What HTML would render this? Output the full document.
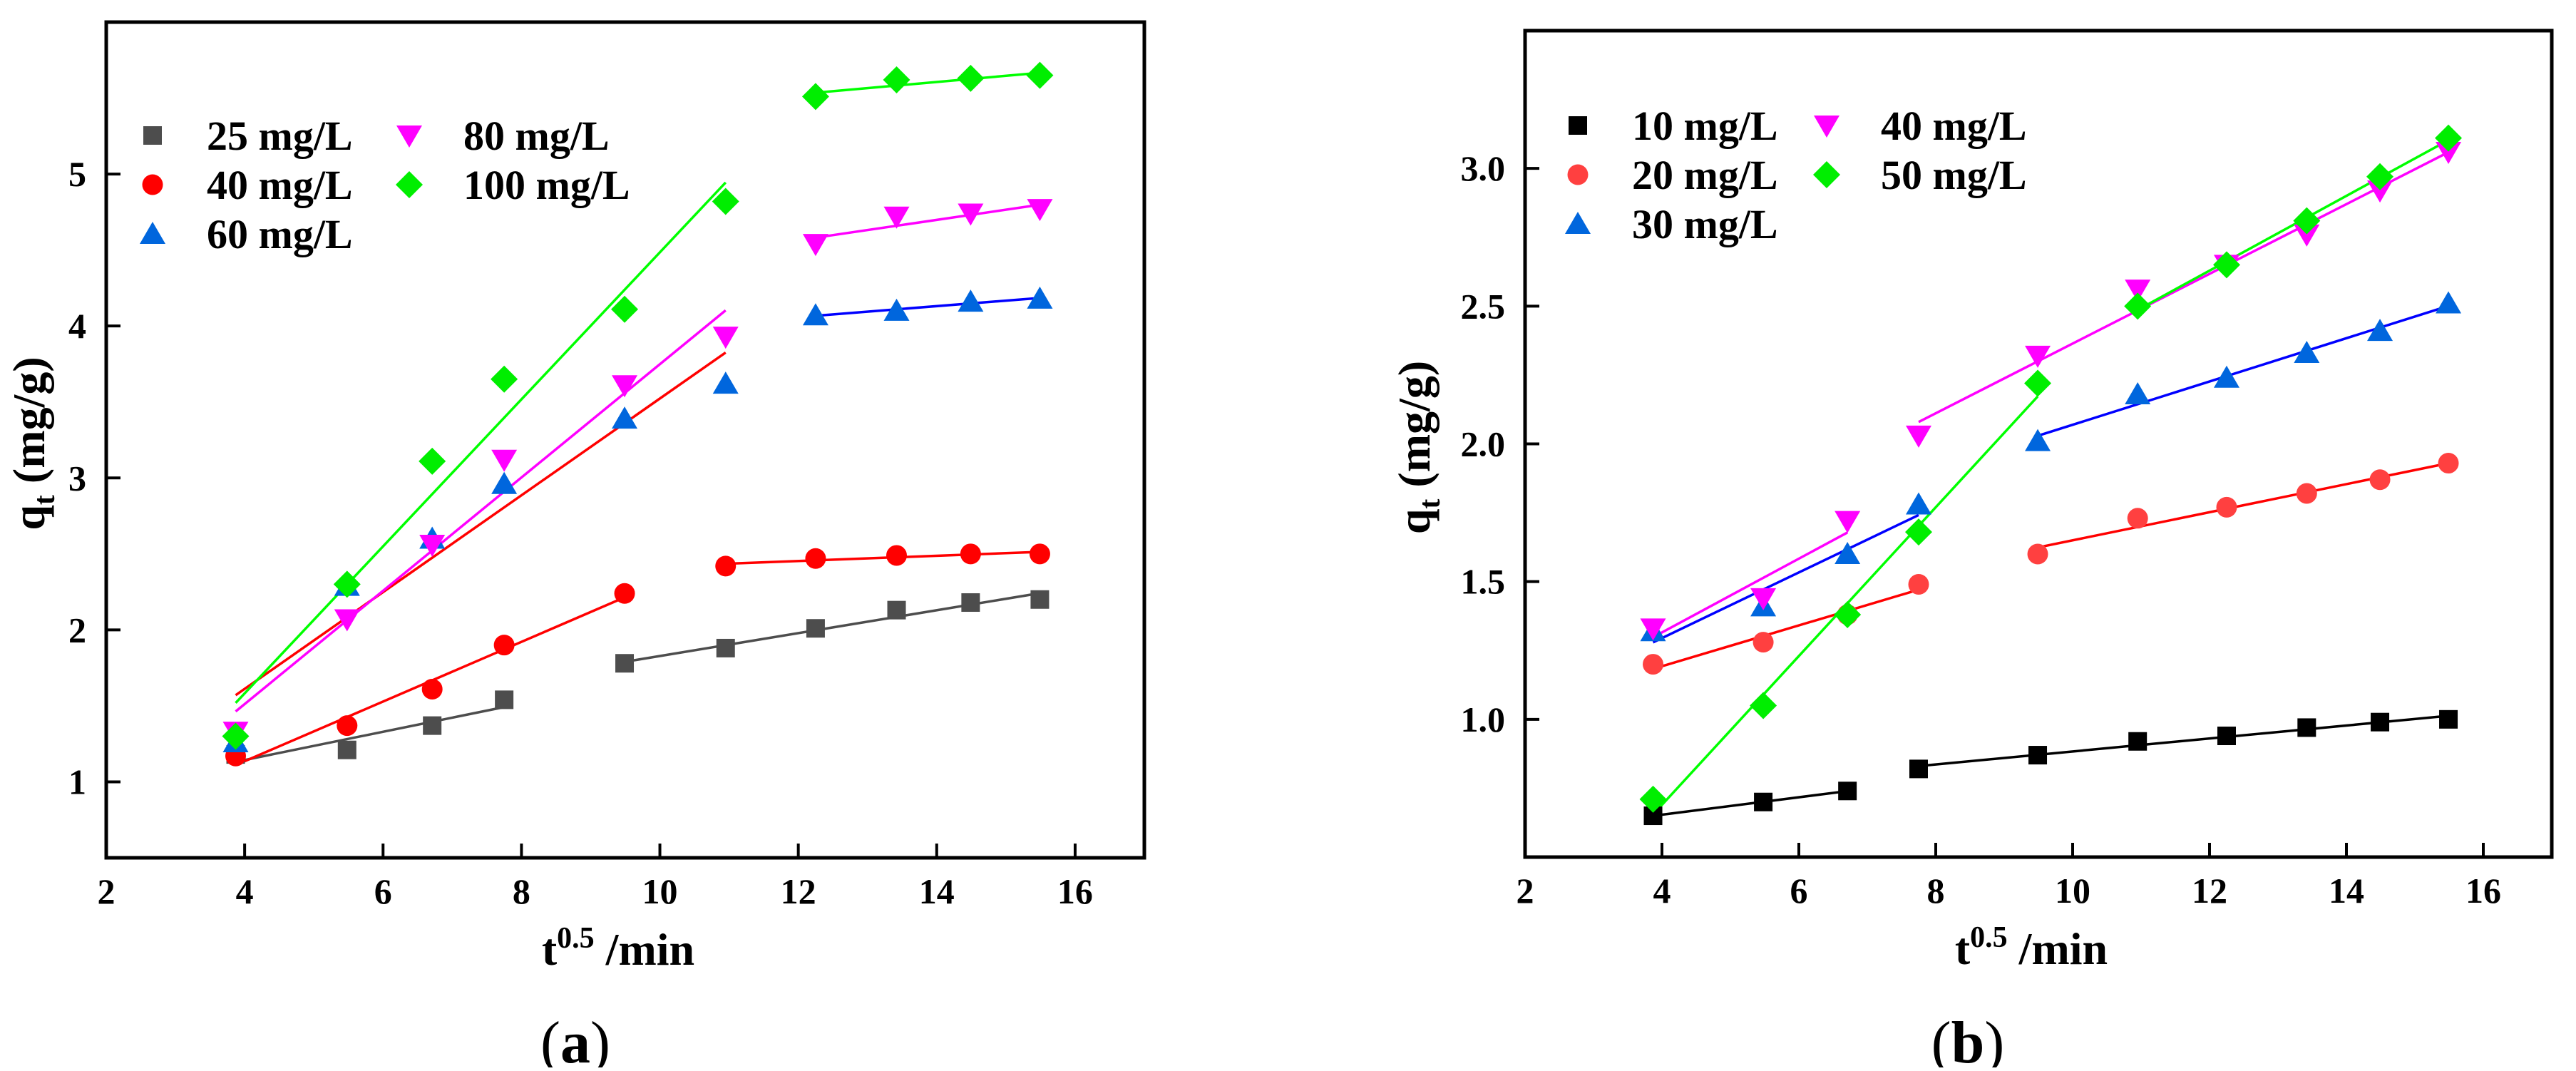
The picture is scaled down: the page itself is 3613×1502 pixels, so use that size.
<!DOCTYPE html>
<html><head><meta charset="utf-8"><style>
html,body{margin:0;padding:0;background:#fff;}
svg, svg text, svg tspan{font-family:"Liberation Serif","DejaVu Serif","Noto Serif CJK SC",serif;}
</style></head><body>
<svg id="fig" width="3613" height="1497" viewBox="0 0 3613 1497" xmlns="http://www.w3.org/2000/svg"></svg>
<script>
// ---- data (a) ----
const xVals = [3.87, 5.48, 6.71, 7.75, 9.49, 10.95, 12.25, 13.42, 14.49, 15.49];
const aNames = ["25 mg/L", "40 mg/L", "60 mg/L", "80 mg/L", "100 mg/L"];
const a25 = [1.18, 1.21, 1.37, 1.54, 1.78, 1.88, 2.01, 2.13, 2.18, 2.20];
const a40 = [1.17, 1.37, 1.61, 1.90, 2.24, 2.42, 2.47, 2.49, 2.50, 2.50];
const a60 = [1.26, 2.29, 2.60, 2.96, 3.39, 3.62, 4.07, 4.10, 4.16, 4.18];
const a80 = [1.33, 2.07, 2.56, 3.12, 3.61, 3.93, 4.54, 4.72, 4.74, 4.77];
const a100 = [1.30, 2.30, 3.11, 3.65, 4.11, 4.82, 5.51, 5.62, 5.63, 5.65];
const aSeg25 = [[0,3],[4,9]];
const aSeg40 = [[0,4],[5,9]];
const aSeg60 = [[0,5],[6,9]];
const aSeg80 = [[0,5],[6,9]];
const aSeg100 = [[0,5],[6,9]];
const aYTicks = [1, 2, 3, 4, 5];
const xTicks = [2, 4, 6, 8, 10, 12, 14, 16];
// ---- data (b) ----
const bNames = ["10 mg/L", "20 mg/L", "30 mg/L", "40 mg/L", "50 mg/L"];
const b10 = [0.65, 0.70, 0.74, 0.82, 0.87, 0.92, 0.94, 0.97, 0.99, 1.00];
const b20 = [1.20, 1.28, 1.38, 1.49, 1.60, 1.73, 1.77, 1.82, 1.87, 1.93];
const b30 = [1.32, 1.41, 1.60, 1.78, 2.01, 2.18, 2.24, 2.33, 2.41, 2.51];
const b40 = [1.33, 1.44, 1.72, 2.03, 2.32, 2.56, 2.65, 2.76, 2.92, 3.06];
const b50 = [0.71, 1.05, 1.38, 1.68, 2.22, 2.50, 2.65, 2.81, 2.97, 3.11];
const bSeg10 = [[0,2],[3,9]];
const bSeg20 = [[0,3],[4,9]];
const bSeg30 = [[0,3],[4,9]];
const bSeg40 = [[0,2],[3,9]];
const bSeg50 = [[0,4],[5,9]];
const bYTicks = [1.0, 1.5, 2.0, 2.5, 3.0];

const NS = "http://www.w3.org/2000/svg";
const FONT = "'Liberation Serif', 'DejaVu Serif', 'Noto Serif CJK SC', serif";
const svg = document.getElementById("fig");
function mk(tag, attrs, parent) {
  const e = document.createElementNS(NS, tag);
  for (const k in attrs) e.setAttribute(k, attrs[k]);
  if (tag === "text") e.style.fontFamily = FONT;
  (parent || svg).appendChild(e);
  return e;
}
function fit(xs, ys) {
  const n = xs.length; let sx=0, sy=0, sxx=0, sxy=0;
  for (let i=0;i<n;i++){sx+=xs[i];sy+=ys[i];sxx+=xs[i]*xs[i];sxy+=xs[i]*ys[i];}
  const m = (n*sxy - sx*sy)/(n*sxx - sx*sx); return [m, (sy - m*sx)/n];
}
function marker(g, type, cx, cy, color) {
  let e;
  if (type === "square") e = mk("rect", {x:cx-13, y:cy-13, width:26, height:26, fill:color}, g);
  else if (type === "circle") e = mk("circle", {cx:cx, cy:cy, r:14.5, fill:color}, g);
  else if (type === "up") e = mk("polygon", {points:`${cx},${cy-17} ${cx-18},${cy+14} ${cx+18},${cy+14}`, fill:color}, g);
  else if (type === "down") e = mk("polygon", {points:`${cx},${cy+17} ${cx-18},${cy-14} ${cx+18},${cy-14}`, fill:color}, g);
  else e = mk("polygon", {points:`${cx},${cy-19} ${cx+19},${cy} ${cx},${cy+19} ${cx-19},${cy}`, fill:color}, g);
  return e;
}

function panel(cfg) {
  const g = mk("g", {});
  
  
  const L=cfg.L, R=cfg.R, T=cfg.T, B=cfg.B;
  const sx = v => L + (v - 2) * (R - L) / 15;
  const sy = v => B - (v - cfg.ymin) * (B - T) / (cfg.ymax - cfg.ymin);
  const fr = mk("rect", {x:L, y:T, width:R-L, height:B-T, fill:"none", stroke:"#000", "stroke-width":5}, g);
  
  
  xTicks.forEach(t => {
    const x = sx(t);
    if (t > 2) { const tk = mk("line", {x1:x, y1:B, x2:x, y2:B-20, stroke:"#000", "stroke-width":4}, g);
        }
    const tl = mk("text", {x:x, y:B+64, "font-size":50, "font-weight":"bold", "text-anchor":"middle"}, g);
    tl.textContent = t;
    
    
  });
  cfg.yTicks.forEach(t => {
    const y = sy(t);
    const tk = mk("line", {x1:L, y1:y, x2:L+20, y2:y, stroke:"#000", "stroke-width":4}, g);
    
    
    const tl = mk("text", {x:L-28, y:y+17, "font-size":50, "font-weight":"bold", "text-anchor":"end"}, g);
    tl.textContent = cfg.yFmt(t);
    
    
  });
  const xt = mk("text", {x:(L+R)/2 - 10, y:B+150, "font-size":64, "font-weight":"bold", "text-anchor":"middle"}, g);
  xt.innerHTML = 't<tspan dy="-24" font-size="42">0.5</tspan><tspan dy="24"> /min</tspan>';
  
  
  const yt = mk("text", {x:0, y:0, "font-size":64, "font-weight":"bold", "text-anchor":"middle", transform:`translate(${cfg.ytx},${(T+B)/2+5}) rotate(-90)`}, g);
  yt.innerHTML = 'q<tspan dy="14" font-size="42">t</tspan><tspan dy="-14"> (mg/g)</tspan>';
  
  
  cfg.series.forEach((s) => {
    const sg = mk("g", {}, g);
    
    
    s.segs.forEach((sgm, k) => {
      const xs = xVals.slice(sgm[0], sgm[1]+1), ys = s.ys.slice(sgm[0], sgm[1]+1);
      const [m, b] = fit(xs, ys);
      const x1 = xs[0], x2 = xs[xs.length-1];
      const ln = mk("line", {x1:sx(x1), y1:sy(m*x1+b), x2:sx(x2), y2:sy(m*x2+b), stroke:s.lineColors[k], "stroke-width":3.5}, sg);
      
      
    });
  });
  cfg.series.forEach(s => {
    s.ys.forEach((v, i) => {
      const mkr = marker(g, s.type, sx(xVals[i]), sy(v), s.color);
      
      
    });
  });
  const lg = mk("g", {}, g);
  
  
  cfg.series.forEach((s, i) => {
    const col = i < 3 ? 0 : 1, row = i < 3 ? i : i - 3;
    const mx = cfg.legX[col], my = cfg.legY[row];
    const mkr = marker(lg, s.type, mx, my, s.color);
    
    
    const tx = mk("text", {x:mx + 76, y:my + 20, "font-size":58, "font-weight":"bold"}, lg);
    tx.textContent = s.label;
    
    
  });
  const cap = mk("text", {x:cfg.capX, y:1490, "font-size":84, "text-anchor":"middle"}, g);
  cap.innerHTML = '(<tspan font-weight="bold">' + cfg.cap + '</tspan>)';
  
  
}

panel({name:"panel-a", L:149, R:1605, T:31, B:1203, ymin:0.5, ymax:6, yTicks:aYTicks, yFmt:t=>String(t),
  ytx:62, capX:807, cap:"a", legX:[214, 574], legY:[190, 259, 328],
  series:[
    {label:aNames[0], ys:a25, segs:aSeg25, type:"square", color:"#4d4d4d", lineColors:["#4d4d4d","#4d4d4d"]},
    {label:aNames[1], ys:a40, segs:aSeg40, type:"circle", color:"#ff0000", lineColors:["#ff0000","#ff0000"]},
    {label:aNames[2], ys:a60, segs:aSeg60, type:"up", color:"#0066dd", lineColors:["#ff0000","#0000ff"]},
    {label:aNames[3], ys:a80, segs:aSeg80, type:"down", color:"#ff00ff", lineColors:["#ff00ff","#ff00ff"]},
    {label:aNames[4], ys:a100, segs:aSeg100, type:"diamond", color:"#00ee00", lineColors:["#00ff00","#00ff00"]}
  ]});
panel({name:"panel-b", L:2139, R:3579, T:43, B:1202, ymin:0.5, ymax:3.5, yTicks:bYTicks, yFmt:t=>t.toFixed(1),
  ytx:2005, capX:2760, cap:"b", legX:[2213, 2562], legY:[176, 245, 314],
  series:[
    {label:bNames[0], ys:b10, segs:bSeg10, type:"square", color:"#000000", lineColors:["#000000","#000000"]},
    {label:bNames[1], ys:b20, segs:bSeg20, type:"circle", color:"#ff4040", lineColors:["#ff0000","#ff0000"]},
    {label:bNames[2], ys:b30, segs:bSeg30, type:"up", color:"#0066dd", lineColors:["#0000ff","#0000ff"]},
    {label:bNames[3], ys:b40, segs:bSeg40, type:"down", color:"#ff00ff", lineColors:["#ff00ff","#ff00ff"]},
    {label:bNames[4], ys:b50, segs:bSeg50, type:"diamond", color:"#00ee00", lineColors:["#00ff00","#00ff00"]}
  ]});
</script>
</body></html>
